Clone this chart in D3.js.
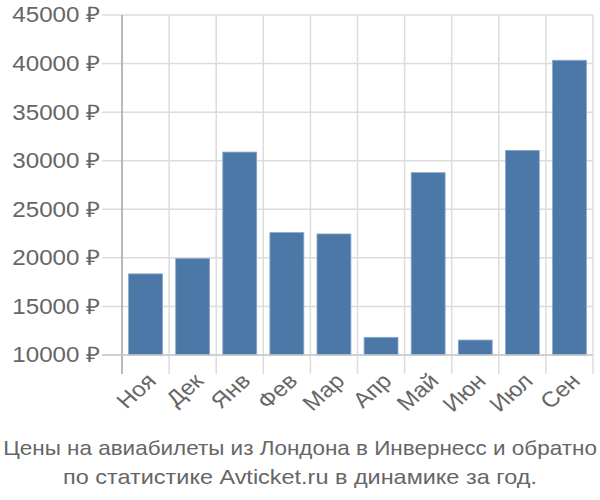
<!DOCTYPE html>
<html><head><meta charset="utf-8">
<script src="https://cdn.jsdelivr.net/npm/d3@7"></script>
<style>body{margin:0;background:#fff}svg{display:block}</style>
</head><body><svg id="c" width="600" height="500"></svg>
<script>
const categories = ["Ноя","Дек","Янв","Фев","Мар","Апр","Май","Июн","Июл","Сен"];
const values = [18350, 19930, 30890, 22600, 22460, 11820, 28770, 11540, 31060, 40340];
const yTicks = [10000,15000,20000,25000,30000,35000,40000,45000];
const titleLines = ["Цены на авиабилеты из Лондона в Инвернесс и обратно","по статистике Avticket.ru в динамике за год."];

(function(){
const svg = d3.select("#c");
const font = "'Liberation Sans', Arial, sans-serif";
const sx = 1.13;
const mLeft = 122, mRight = 593, mTop = 15, mBottom = 355;
const x = d3.scaleBand().domain(categories).range([mLeft, mRight]).paddingInner(0.28).paddingOuter(0.14);
const y = d3.scaleLinear().domain([10000, 45000]).range([mBottom, mTop]);

svg.append("g").selectAll("line").data(yTicks).join("line")
  .attr("x1", mLeft-20).attr("x2", mRight).attr("y1", d=>y(d)).attr("y2", d=>y(d))
  .attr("stroke", "#dcdcdc").attr("stroke-width", 1.5);
const edges = categories.map(c=>x(c)-x.step()*x.paddingInner()/2);
edges.push(mRight);
svg.append("g").selectAll("line").data(edges).join("line")
  .attr("x1", d=>d).attr("x2", d=>d).attr("y1", mTop).attr("y2", mBottom+19)
  .attr("stroke", "#dcdcdc").attr("stroke-width", 1.5);

svg.append("g").selectAll("rect").data(values).join("rect")
  .attr("x", (d,i)=>x(categories[i])).attr("width", x.bandwidth())
  .attr("y", d=>y(d)).attr("height", d=>mBottom-y(d))
  .attr("fill", "#4c78a7").attr("stroke", "#8aa7c8").attr("stroke-width", 0.8);

svg.append("line").attr("x1", mLeft).attr("x2", mLeft).attr("y1", mTop).attr("y2", mBottom+19)
  .attr("stroke", "#aaaaaa").attr("stroke-width", 1.5);
svg.append("line").attr("x1", mLeft-20).attr("x2", mRight).attr("y1", mBottom).attr("y2", mBottom)
  .attr("stroke", "#c8c8c8").attr("stroke-width", 1.5);

svg.append("g").selectAll("text").data(yTicks).join("text")
  .attr("transform", d=>`translate(100,${y(d)}) scale(${sx},1)`).attr("dy", "0.35em")
  .attr("text-anchor", "end").attr("font-family", font).attr("font-size", 21.4)
  .attr("fill", "#666").text(d=>d+" ₽");

svg.append("g").selectAll("text").data(categories).join("text")
  .attr("transform", d=>`translate(${x(d)+x.bandwidth()/2+6},${mBottom+22}) scale(${sx},1) rotate(-45)`)
  .attr("text-anchor", "end").attr("dy", "0.35em")
  .attr("font-family", font).attr("font-size", 21.4).attr("fill", "#666").text(d=>d);

const targetW = [594, 474];
svg.append("g").selectAll("text").data(titleLines).join("text")
  .attr("text-anchor", "middle")
  .attr("font-family", font).attr("font-size", 20.5).attr("fill", "#666").text(d=>d)
  .each(function(d,i){
    const w = this.getComputedTextLength();
    const s = w > 0 ? targetW[i]/w : sx;
    d3.select(this).attr("transform", `translate(300,${455+i*29}) scale(${s},1)`);
  });
})();
</script></body></html>
